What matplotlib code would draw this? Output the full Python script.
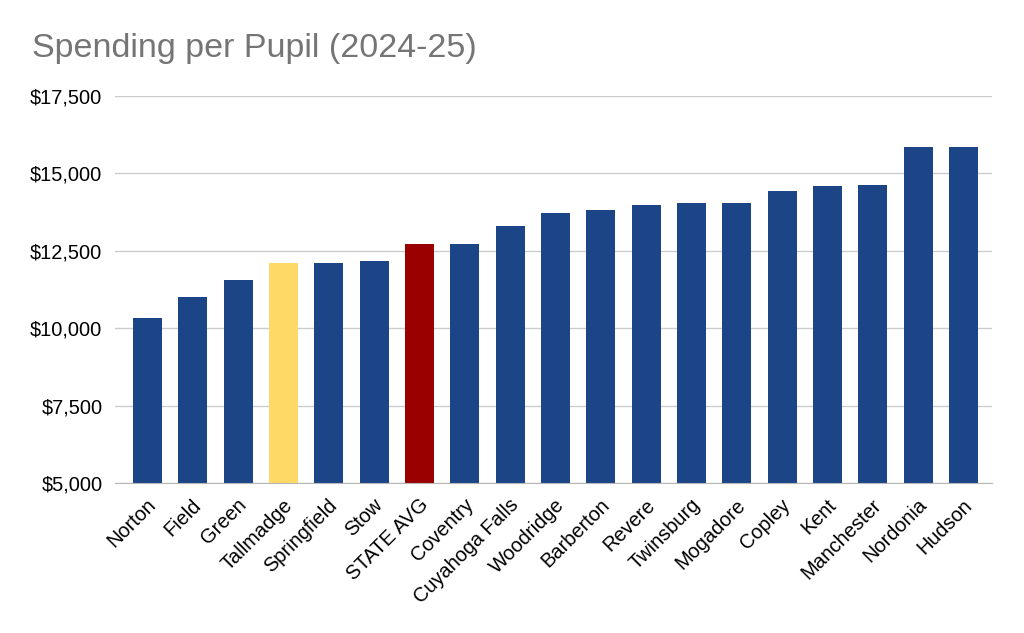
import matplotlib
matplotlib.use("Agg")
import matplotlib.pyplot as plt
import matplotlib.transforms as mtransforms
from matplotlib.ticker import FuncFormatter

plt.rcParams['font.family'] = ['Liberation Sans', 'DejaVu Sans']

districts = ["Norton", "Field", "Green", "Tallmadge", "Springfield", "Stow",
             "STATE AVG", "Coventry", "Cuyahoga Falls", "Woodridge", "Barberton",
             "Revere", "Twinsburg", "Mogadore", "Copley", "Kent", "Manchester",
             "Nordonia", "Hudson"]
spending = [10346, 11013, 11562, 12111, 12111, 12164, 12713, 12713, 13315,
            13713, 13821, 13982, 14036, 14036, 14423, 14585, 14639, 15854, 15854]

blue = "#1c4587"
colors = [blue] * len(districts)
colors[districts.index("Tallmadge")] = "#ffd966"
colors[districts.index("STATE AVG")] = "#990000"

fig = plt.figure(figsize=(10.24, 6.33), dpi=100)
ax = fig.add_axes([0.1123, 0.2365, 0.8565, 0.6118])

x = list(range(len(districts)))
ax.bar(x, spending, width=0.64, color=colors, zorder=3)

ax.set_ylim(5000, 17500)
ax.set_yticks(range(5000, 17501, 2500))
ax.yaxis.set_major_formatter(FuncFormatter(lambda v, p: "${:,.0f}".format(v)))
ax.set_xlim(-0.72, len(districts) - 0.37)
ax.set_xticks(x)
ax.set_xticklabels([])

# category labels, rotated 45 deg, anchored at their right end under each bar
trans = mtransforms.offset_copy(ax.get_xaxis_transform(), fig=fig,
                                x=4, y=-13.5, units="points")
for xi, name in zip(x, districts):
    ax.text(xi, 0, name, transform=trans, rotation=45, rotation_mode="anchor",
            ha="right", va="center", fontsize=14.4, color="#000000")

ax.grid(axis="y", color="#cccccc", linewidth=1, zorder=0)
for s in ["top", "right", "left"]:
    ax.spines[s].set_visible(False)
ax.spines["bottom"].set_color("#b7b7b7")
ax.spines["bottom"].set_zorder(4)
ax.tick_params(axis="both", length=0, labelsize=14.4, colors="#000000")
ax.tick_params(axis="y", pad=9)

fig.text(0.031, 0.924, "Spending per Pupil (2024-25)", fontsize=24.5,
         color="#757575", ha="left", va="center")

fig.savefig("out.png", dpi=100, facecolor="white")
